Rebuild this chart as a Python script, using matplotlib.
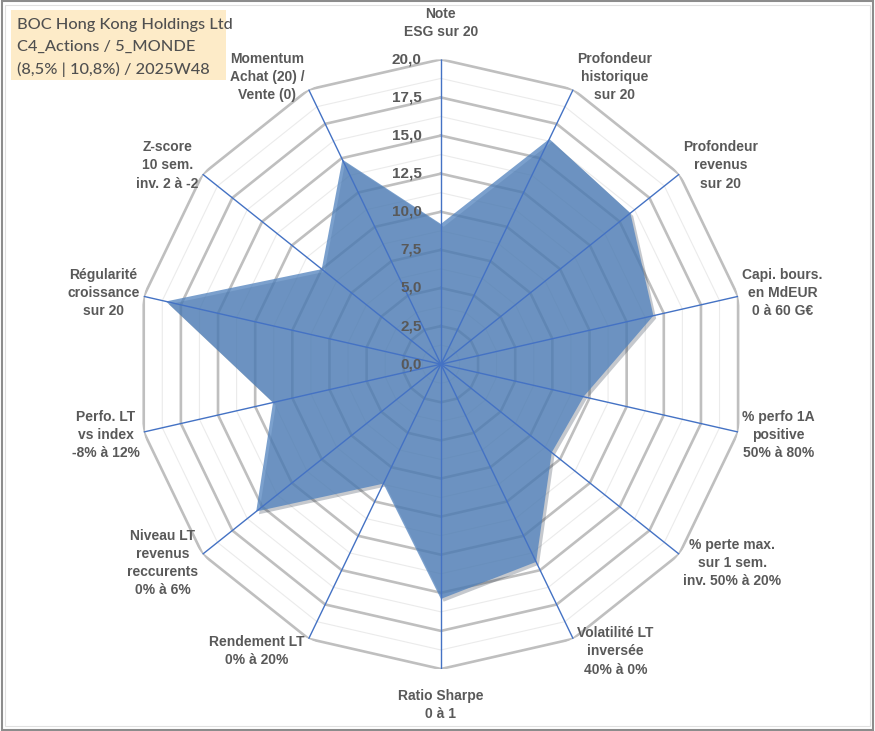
import numpy as np
import matplotlib
matplotlib.use("Agg")
import matplotlib.pyplot as plt
import matplotlib.patheffects as pe
from matplotlib.patches import Rectangle

# Radar axes (clockwise from top)
categories = [
    "Note\nESG sur 20",
    "Profondeur\nhistorique\nsur 20",
    "Profondeur\nrevenus\nsur 20",
    "Capi. bours.\nen MdEUR\n0 à 60 G€",
    "% perfo 1A\npositive\n50% à 80%",
    "% perte max.\nsur 1 sem.\ninv. 50% à 20%",
    "Volatilité LT\ninversée\n40% à 0%",
    "Ratio Sharpe\n0 à 1",
    "Rendement LT\n0% à 20%",
    "Niveau LT\nrevenus\nreccurents\n0% à 6%",
    "Perfo. LT\nvs index\n-8% à 12%",
    "Régularité\ncroissance\nsur 20",
    "Z-score\n10 sem.\ninv. 2 à -2",
    "Momentum\nAchat (20) /\nVente (0)",
]
scores = [9.2, 16.4, 15.9, 14.3, 9.6, 9.3, 14.4, 15.4, 8.7, 15.5, 11.3, 18.5, 10.0, 14.9]
major_ticks = [0, 2.5, 5, 7.5, 10, 12.5, 15, 17.5, 20]
title_lines = ["BOC Hong Kong Holdings Ltd", "C4_Actions / 5_MONDE", "(8,5% | 10,8%) / 2025W48"]

n = len(categories)
theta = np.arange(n) * 2 * np.pi / n
theta_c = np.append(theta, theta[0])
scores_c = np.append(scores, scores[0])

fig = plt.figure(figsize=(8.75, 7.31), dpi=100)
ax = fig.add_axes([0.1554, 0.0848, 0.697, 0.834], projection="polar")
ax.set_theta_offset(np.pi / 2)
ax.set_theta_direction(-1)
ax.set_ylim(0, 20)
ax.set_axis_off()

# polygon gridlines: thin minor + thick major
for r in np.arange(1.25, 20.01, 1.25):
    if abs(r / 2.5 - round(r / 2.5)) < 1e-6:
        ax.plot(theta_c, [r] * (n + 1), color="#BFBFBF", lw=1.9, zorder=1)
    else:
        ax.plot(theta_c, [r] * (n + 1), color="#EBEBEB", lw=0.8, zorder=1)

# series
ax.fill(theta_c, scores_c, color="#4F81BD", alpha=0.75, lw=0, zorder=3,
        path_effects=[pe.SimplePatchShadow(offset=(2, -2), alpha=0.25), pe.Normal()])

# spokes
for t in theta:
    ax.plot([t, t], [0, 20], color="#4472C4", lw=1.0, zorder=4)

# radial tick labels
for v in major_ticks:
    ax.annotate(f"{v:.1f}".replace(".", ","), xy=(0, v), xytext=(-14, 0),
                textcoords="offset points", ha="right", va="center",
                fontsize=11, fontweight="bold", color="#595959",
                family="Liberation Sans", zorder=5)

# category labels
for t, lab in zip(theta, categories):
    s, c = np.sin(t), np.cos(t)
    if abs(s) < 1e-6:
        ha, dx, dy = "center", 0, (26 if c > 0 else -26)
    elif s > 0:
        ha, dx, dy = "left", 3, 10 * c
    else:
        ha, dx, dy = "right", -3, 10 * c
    ax.annotate(lab, xy=(t, 20), xytext=(dx, dy),
                textcoords="offset points", ha=ha, va="center", multialignment="center",
                fontsize=10, fontweight="bold", color="#595959", linespacing=1.38,
                family="Liberation Sans", annotation_clip=False)

# title box
fig.patches.append(Rectangle((11 / 875, 1 - 80 / 731), 215 / 875, 70 / 731,
                             transform=fig.transFigure, facecolor="#FDEBC8",
                             edgecolor="none", zorder=0))
for i, line in enumerate(title_lines):
    fig.text(17 / 875, 1 - (25 + 22 * i) / 731, line, ha="left", va="center",
             fontsize=11.8, color="#505050", family="Lato", fontweight="medium")

# outer borders
fig.patches.append(Rectangle((0.002, 0.002), 0.996, 0.996, transform=fig.transFigure,
                             facecolor="none", edgecolor="#8C8C8C", lw=1.5))
fig.patches.append(Rectangle((5 / 875, 5 / 731), 865 / 875, 721 / 731,
                             transform=fig.transFigure, facecolor="none",
                             edgecolor="#E0E0E0", lw=0.8))

fig.savefig("out.png", dpi=100)
